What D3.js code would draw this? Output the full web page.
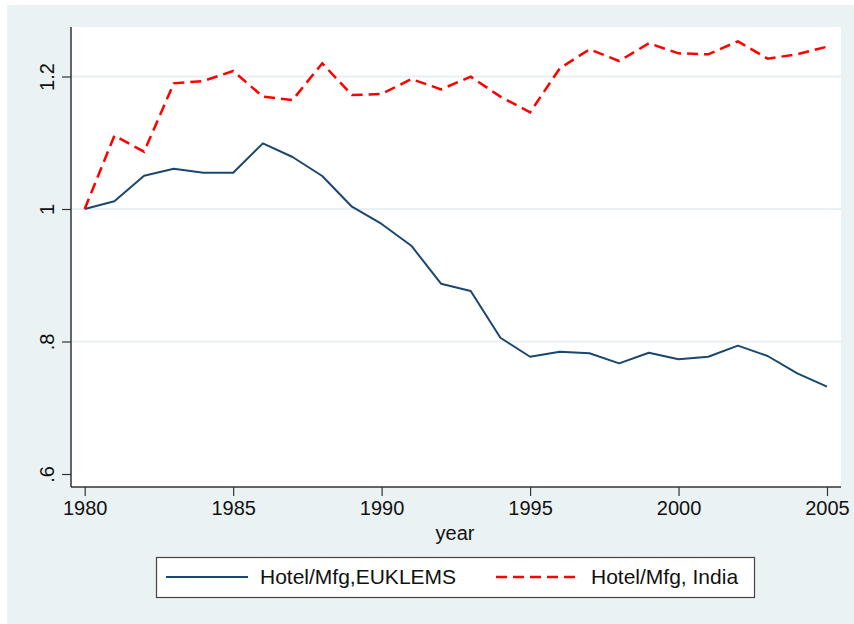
<!DOCTYPE html>
<html>
<head>
<meta charset="utf-8">
<script src="https://cdn.jsdelivr.net/npm/d3@7"></script>
<style>
  html, body { margin: 0; padding: 0; background: #ffffff; }
  svg { display: block; font-family: "Liberation Sans", Arial, sans-serif; }
</style>
</head>
<body>
<svg id="chart" width="854" height="624"></svg>
<script>
const years = d3.range(1980, 2006);
const euklems = [1.0, 1.0116, 1.0503, 1.0609, 1.0548, 1.0548, 1.0991, 1.0785, 1.0498, 1.0035,
  0.9774, 0.9446, 0.8873, 0.8762, 0.8057, 0.7770, 0.7846, 0.7822, 0.7670, 0.7831,
  0.7731, 0.7770, 0.7937, 0.7781, 0.7520, 0.7318];
const india = [1.0, 1.1107, 1.0865, 1.1897, 1.1932, 1.2083, 1.1696, 1.1645, 1.2199, 1.1720,
  1.1736, 1.1962, 1.1806, 1.1997, 1.1696, 1.1459, 1.2123, 1.2410, 1.2234, 1.2501,
  1.2350, 1.2335, 1.2531, 1.2269, 1.2335, 1.2450];
const xTicks = [1980, 1985, 1990, 1995, 2000, 2005];
const yTicks = [0.6, 0.8, 1.0, 1.2];
const yTickLabels = [".6", ".8", "1", "1.2"];
const seriesNames = ["Hotel/Mfg,EUKLEMS", "Hotel/Mfg, India"];

const svg = d3.select("#chart");
const plot = { left: 71, right: 841, top: 27, bottom: 487 };

// outer background
svg.append("rect").attr("x", 7).attr("y", 5).attr("width", 847).attr("height", 619).attr("fill", "#eaf2f3");
// plot region
svg.append("rect").attr("x", plot.left).attr("y", plot.top)
  .attr("width", plot.right - plot.left).attr("height", plot.bottom - plot.top).attr("fill", "#ffffff");

const x = d3.scaleLinear().domain([1980, 2005]).range([84.7, 827]);
const y = d3.scaleLinear().domain([0.6, 1.2]).range([474, 76.5]);

// gridlines
svg.append("g").selectAll("line").data(yTicks.filter(t => t > 0.7)).join("line")
  .attr("x1", plot.left).attr("x2", plot.right)
  .attr("y1", d => y(d)).attr("y2", d => y(d))
  .attr("stroke", "#e8f0f3").attr("stroke-width", 2);

// y axis
const yAxis = d3.axisLeft(y).tickValues(yTicks).tickSize(9).tickSizeOuter(0)
  .tickFormat((d, i) => yTickLabels[i]);
const gy = svg.append("g").attr("transform", `translate(${plot.left},0)`).call(yAxis);
gy.select(".domain").attr("d", `M0,${plot.top}V${plot.bottom}`).attr("stroke", "#333").attr("stroke-width", 1.5);
gy.selectAll(".tick line").attr("stroke", "#333").attr("stroke-width", 1.2);
gy.selectAll(".tick text")
  .attr("x", null).attr("dy", null)
  .attr("transform", "translate(-17,0) rotate(-90)")
  .attr("text-anchor", "middle")
  .attr("font-size", 20).attr("fill", "#111")
  .attr("font-family", "'Liberation Sans', Arial, sans-serif");

// x axis
const xAxis = d3.axisBottom(x).tickValues(xTicks).tickSize(9).tickSizeOuter(0).tickFormat(d3.format("d"));
const gx = svg.append("g").attr("transform", `translate(0,${plot.bottom})`).call(xAxis);
gx.select(".domain").attr("d", `M${plot.left},0H${plot.right}`).attr("stroke", "#333").attr("stroke-width", 1.5);
gx.selectAll(".tick line").attr("stroke", "#333").attr("stroke-width", 1.2);
gx.selectAll(".tick text").attr("y", 14).attr("dy", "0.71em")
  .attr("font-size", 20).attr("fill", "#111")
  .attr("font-family", "'Liberation Sans', Arial, sans-serif");

svg.append("text").attr("x", 455).attr("y", 540).attr("text-anchor", "middle")
  .attr("font-size", 20).attr("fill", "#111").text("year");

// lines
const line = d3.line().x((d, i) => x(years[i])).y(d => y(d));
svg.append("path").datum(euklems).attr("d", line)
  .attr("fill", "none").attr("stroke", "#1a476f").attr("stroke-width", 2).attr("stroke-linejoin", "round");
svg.append("path").datum(india).attr("d", line)
  .attr("fill", "none").attr("stroke", "#ff0000").attr("stroke-width", 2.5)
  .attr("stroke-dasharray", "11,6");

// legend
svg.append("rect").attr("x", 156.5).attr("y", 557.5).attr("width", 598).attr("height", 40)
  .attr("fill", "#ffffff").attr("stroke", "#444").attr("stroke-width", 1.2);
svg.append("line").attr("x1", 166).attr("x2", 248).attr("y1", 577).attr("y2", 577)
  .attr("stroke", "#1a476f").attr("stroke-width", 2);
svg.append("text").attr("x", 260).attr("y", 584).attr("font-size", 21).attr("fill", "#111").text(seriesNames[0]);
svg.append("line").attr("x1", 496).attr("x2", 579).attr("y1", 577).attr("y2", 577)
  .attr("stroke", "#ff0000").attr("stroke-width", 2.5).attr("stroke-dasharray", "11,6");
svg.append("text").attr("x", 591).attr("y", 584).attr("font-size", 21).attr("fill", "#111").text(seriesNames[1]);
</script>
</body>
</html>
